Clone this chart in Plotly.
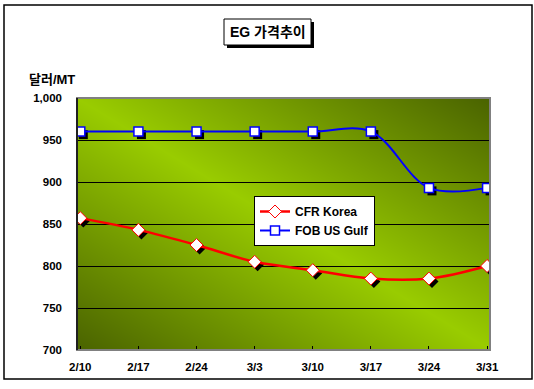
import zlib, struct, base64
import plotly.graph_objects as go

# ---- data ----
categories = ["2/10", "2/17", "2/24", "3/3", "3/10", "3/17", "3/24", "3/31"]
cfr_korea = [857, 843, 825, 805, 795, 785, 785, 800]
fob_us_gulf = [960, 960, 960, 960, 960, 960, 893, 893]
y_ticks = [700, 750, 800, 850, 900, 950, 1000]

W, H = 534, 389
L, R, T, B = 77, 490, 98, 350
XR = [-0.057, 7.05]
YR = [700, 1000]

def px(x):
    return (x - L) / (R - L)

def py(y):
    return (B - y) / (B - T)

# shadow offset in data units (3 px)
dx = 3 * (XR[1] - XR[0]) / (R - L)
dy = 3 * (YR[1] - YR[0]) / (B - T)

# ---- background gradient image ----
def make_png(w, h, fn):
    raw = bytearray()
    for y in range(h):
        raw.append(0)
        for x in range(w):
            raw += bytes(fn(x, y))
    def chunk(t, d):
        c = struct.pack('>I', len(d)) + t + d
        return c + struct.pack('>I', zlib.crc32(t + d) & 0xffffffff)
    png = (b'\x89PNG\r\n\x1a\n'
           + chunk(b'IHDR', struct.pack('>IIBBBBB', w, h, 8, 2, 0, 0, 0))
           + chunk(b'IDAT', zlib.compress(bytes(raw), 9))
           + chunk(b'IEND', b''))
    return 'data:image/png;base64,' + base64.b64encode(png).decode()

bright = (0x99, 0xCC, 0x00)
dark = (0x4A, 0x63, 0x00)
gw, gh = R - L, B - T

def grad(x, y):
    u = x / (gw - 1)
    v = y / (gh - 1)
    t = abs(u - v)
    return tuple(int(round(bright[i] + (dark[i] - bright[i]) * t)) for i in range(3))

bg_src = make_png(gw, gh, grad)

font_fam = "Liberation Sans, Arial, Noto Sans CJK KR, sans-serif"

fig = go.Figure()

# shadows (on base axes, shifted ranges)
fig.add_trace(go.Scatter(x=categories, y=cfr_korea, mode="markers", xaxis="x", yaxis="y",
                         marker=dict(symbol="diamond", size=10, color="black"),
                         showlegend=False, hoverinfo="skip"))
fig.add_trace(go.Scatter(x=categories, y=fob_us_gulf, mode="markers", xaxis="x", yaxis="y",
                         marker=dict(symbol="square", size=9, color="black"),
                         showlegend=False, hoverinfo="skip"))

# main traces
fig.add_trace(go.Scatter(x=categories, y=cfr_korea, name="CFR Korea", mode="lines+markers",
                         xaxis="x2", yaxis="y2",
                         line=dict(color="#FF0000", width=2.5, shape="spline", smoothing=1),
                         marker=dict(symbol="diamond", size=10, color="white",
                                     line=dict(color="#FF0000", width=1))))
fig.add_trace(go.Scatter(x=categories, y=fob_us_gulf, name="FOB US Gulf", mode="lines+markers",
                         xaxis="x2", yaxis="y2",
                         line=dict(color="#0000FF", width=2, shape="spline", smoothing=1),
                         marker=dict(symbol="square", size=9, color="white",
                                     line=dict(color="#0000FF", width=1.5))))

shapes = [
    # outer border
    dict(type="rect", xref="paper", yref="paper", x0=px(4), x1=px(532), y0=py(379), y1=py(5),
         line=dict(color="black", width=1.5), layer="above"),
    # plot frame
    dict(type="rect", xref="paper", yref="paper", x0=0, x1=1, y0=0, y1=1,
         line=dict(color="#808080", width=2), layer="above"),
    dict(type="line", xref="paper", yref="paper", x0=0, x1=0, y0=0, y1=1,
         line=dict(color="black", width=1.5), layer="above"),
    # title box shadow + box
    dict(type="rect", xref="paper", yref="paper", x0=px(227), x1=px(314), y0=py(48), y1=py(22),
         fillcolor="black", line=dict(width=0), layer="above"),
    dict(type="rect", xref="paper", yref="paper", x0=px(224), x1=px(311), y0=py(45), y1=py(19),
         fillcolor="white", line=dict(color="black", width=1), layer="above"),
]

annotations = [
    dict(text="<b>EG 가격추이</b>", xref="paper", yref="paper", x=px(267.5), y=py(32),
         xanchor="center", yanchor="middle", showarrow=False,
         font=dict(family=font_fam, size=14, color="black")),
    dict(text="<b>달러/MT</b>", xref="paper", yref="paper", x=px(27), y=py(79),
         xanchor="left", yanchor="middle", showarrow=False,
         font=dict(family=font_fam, size=13, color="black")),
]

fig.update_layout(
    width=W, height=H,
    margin=dict(l=L, r=W - R, t=T, b=H - B, pad=0),
    paper_bgcolor="white",
    plot_bgcolor="rgba(0,0,0,0)",
    images=[dict(source=bg_src, xref="paper", yref="paper", x=0, y=1, sizex=1, sizey=1,
                 sizing="stretch", xanchor="left", yanchor="top", layer="below")],
    xaxis=dict(type="category", range=[XR[0] - dx, XR[1] - dx], visible=False, fixedrange=True),
    yaxis=dict(range=[YR[0] + dy, YR[1] + dy], visible=False, fixedrange=True),
    xaxis2=dict(type="category", overlaying="x", anchor="y2", range=XR,
                showgrid=False, ticks="inside", ticklen=4, tickcolor="black", tickwidth=1,
                showline=False, zeroline=False, ticklabelstandoff=8,
                tickfont=dict(family=font_fam, size=11.5, color="black"),
                tickvals=categories, ticktext=["<b>%s</b>" % c for c in categories]),
    yaxis2=dict(overlaying="y", anchor="x2", range=YR, tickvals=y_ticks,
                ticktext=["<b>{:,}</b>".format(v) for v in y_ticks],
                showgrid=True, gridcolor="black", gridwidth=1, zeroline=False,
                ticks="", showline=False, ticklabelstandoff=14,
                tickfont=dict(family=font_fam, size=11.5, color="black")),
    legend=dict(x=px(254), y=py(196), xanchor="left", yanchor="top",
                bgcolor="white", bordercolor="black", borderwidth=1,
                font=dict(family=font_fam, size=12, color="black"),
                itemwidth=30, tracegroupgap=0),
    shapes=shapes,
    annotations=annotations,
    showlegend=True,
)

fig.for_each_trace(lambda t: t.update(name="<b>%s</b>" % t.name) if t.name else None)

fig.write_html("out.html")
